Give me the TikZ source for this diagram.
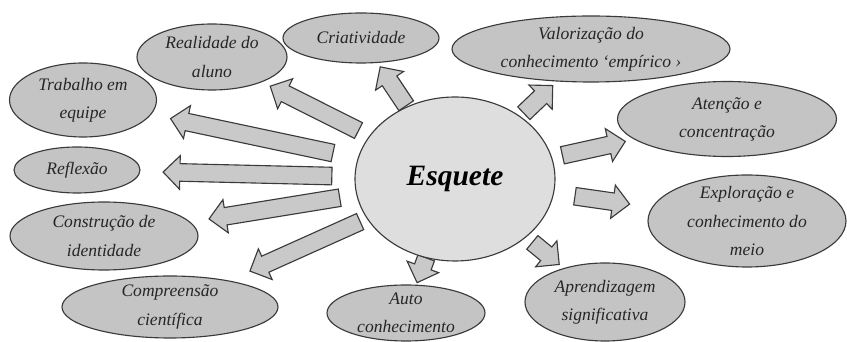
\documentclass[tikz,border=0pt]{standalone}
\usepackage{fontspec}
\setmainfont{Liberation Serif}
\usetikzlibrary{shapes.geometric, calc, backgrounds}
\definecolor{bubble}{HTML}{C4C4C4}
\definecolor{arrowgray}{HTML}{C9C9C9}
\definecolor{centre}{HTML}{DEDEDE}
\definecolor{edge}{HTML}{3A3A3A}

\newcommand{\blockarr}[4]{%
  \coordinate (ba-t) at ($(#1)!#3!(#2)$);
  \coordinate (ba-h) at ($(#1)!#4!(#2)$);
  \coordinate (ba-m) at ($(ba-h)!0.42cm!(ba-t)$);
  \draw[barrow] ($(ba-t)!0.22cm!90:(ba-h)$) -- ($(ba-m)!0.22cm!90:(ba-h)$)
    -- ($(ba-m)!0.42cm!90:(ba-h)$) -- (ba-h)
    -- ($(ba-m)!0.42cm!-90:(ba-h)$) -- ($(ba-m)!0.22cm!-90:(ba-h)$)
    -- ($(ba-t)!0.22cm!-90:(ba-h)$) -- cycle;}

\begin{document}
\begin{tikzpicture}[
    bub/.style={
      ellipse, draw=edge, fill=bubble, line width=0.8pt,
      inner xsep=0pt, inner ysep=-4pt, align=center,
      font=\fontsize{12.5}{20}\selectfont\itshape, text=black!85
    },
    hub/.style={
      ellipse, draw=edge, fill=centre, line width=0.8pt,
      minimum width=5cm, minimum height=4.1cm,
      font=\fontsize{21}{24}\selectfont\bfseries\itshape
    },
    barrow/.style={draw=edge, fill=arrowgray, line width=0.8pt, line join=miter}
  ]
  \useasboundingbox (0,0) rectangle (21.175,8.55);

  \node[hub] (esq) at (11.375,4.075) {Esquete};

  \node[bub, minimum width=3.75cm, minimum height=1.65cm] (real) at (5.3,7.125) {Realidade do\\aluno};
  \node[bub, minimum width=3.9cm, minimum height=1.25cm] (cri) at (9.025,7.6) {Criatividade};
  \node[bub, minimum width=6.95cm, minimum height=1.65cm] (valor) at (14.775,7.325) {Valorização do\\conhecimento ‘empírico ›};
  \node[bub, minimum width=3.675cm, minimum height=1.85cm] (trab) at (2.075,6.05) {Trabalho em\\equipe};
  \node[bub, minimum width=3.15cm, minimum height=1.15cm] (ref) at (1.925,4.3) {Reflexão};
  \node[bub, minimum width=4.7cm, minimum height=1.7cm] (cons) at (2.6,2.65) {Construção de\\identidade};
  \node[bub, minimum width=5.4cm, minimum height=1.55cm] (comp) at (4.25,0.875) {Compreensão\\científica};
  \node[bub, minimum width=3.95cm, minimum height=1.4cm] (auto) at (10.15,0.725) {Auto\\conhecimento};
  \node[bub, minimum width=4cm, minimum height=1.95cm] (apr) at (15.125,1.0) {Aprendizagem\\significativa};
  \node[bub, minimum width=4.95cm, minimum height=2.3cm] (expl) at (18.675,3.025) {Exploração e\\conhecimento do\\meio};
  \node[bub, minimum width=5.475cm, minimum height=1.875cm] (aten) at (18.175,5.575) {Atenção e\\concentração};

  \begin{scope}[on background layer]
    \foreach \dest/\from/\to in {cri/2.2cm/3.37cm, real/2.7cm/5.17cm, trab/3.12cm/7.27cm,
        ref/3.08cm/7.3cm, cons/2.92cm/6.23cm, comp/2.6cm/5.62cm, auto/2.1cm/2.76cm,
        apr/2.5cm/3.37cm, expl/3.03cm/4.41cm, aten/2.75cm/4.36cm, valor/2.38cm/3.38cm}
      {\blockarr{esq}{\dest}{\from}{\to}}
  \end{scope}
\end{tikzpicture}
\end{document}
